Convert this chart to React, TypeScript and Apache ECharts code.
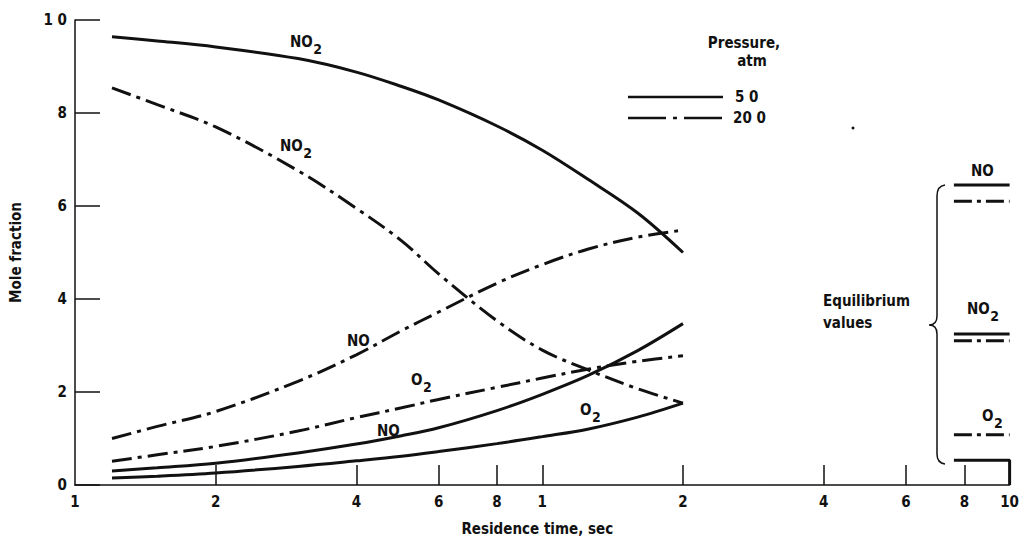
import React, { useEffect, useRef } from "react";
import * as echarts from "echarts";

// Residence time, sec
const times = [0.12, 0.15, 0.2, 0.3, 0.4, 0.5, 0.6, 0.8, 1.0, 1.25, 1.6, 2.0];
// Mole fractions at 5.0 atm (solid)
const no2At5 = [0.964, 0.955, 0.942, 0.917, 0.888, 0.857, 0.828, 0.772, 0.72, 0.658, 0.585, 0.5];
const noAt5 = [0.03, 0.037, 0.047, 0.069, 0.088, 0.106, 0.123, 0.16, 0.195, 0.235, 0.289, 0.347];
const o2At5 = [0.015, 0.019, 0.026, 0.04, 0.052, 0.062, 0.072, 0.089, 0.104, 0.12, 0.146, 0.176];
// Mole fractions at 20.0 atm (dash-dot)
const no2At20 = [0.854, 0.818, 0.77, 0.676, 0.595, 0.525, 0.454, 0.353, 0.29, 0.248, 0.207, 0.176];
const noAt20 = [0.1, 0.126, 0.158, 0.223, 0.28, 0.332, 0.372, 0.434, 0.474, 0.507, 0.533, 0.548];
const o2At20 = [0.051, 0.065, 0.083, 0.116, 0.145, 0.166, 0.184, 0.21, 0.23, 0.249, 0.266, 0.278];

// Equilibrium values (drawn at the right edge)
const eqTimes = [7.6, 10];
const eqAt5 = { NO: 0.645, NO2: 0.325, O2: 0.053 };
const eqAt20 = { NO: 0.61, NO2: 0.31, O2: 0.108 };

// Axis ticks
const xTickValues = [0.2, 0.4, 0.6, 0.8, 1, 2, 4, 6, 8];
const xLabelValues = [0.1, 0.2, 0.4, 0.6, 0.8, 1, 2, 4, 6, 8, 10];
const yLabels: Record<string, string> = { "0": "0", "0.2": "2", "0.4": "4", "0.6": "6", "0.8": "8", "1": "1 0" };

const FONT = "'DejaVu Sans Condensed', 'Liberation Sans', sans-serif";
const INK = "#111";
const DASHDOT = [20, 6, 4, 6];
const EQDASH = [18, 5, 4, 5];

const pair = (ys: number[]) => times.map((t, i) => [t, ys[i]]);

let measureCtx: CanvasRenderingContext2D | null = null;
function textWidth(text: string, font: string) {
  if (!measureCtx) measureCtx = document.createElement("canvas").getContext("2d");
  if (!measureCtx) return text.length * 9;
  measureCtx.font = font;
  return measureCtx.measureText(text).width;
}

function curve(name: string, ys: number[], dashed: boolean) {
  return {
    name,
    type: "line",
    data: pair(ys),
    smooth: 0.35,
    showSymbol: false,
    symbol: "none",
    silent: true,
    lineStyle: { color: INK, width: 3, type: dashed ? DASHDOT : "solid" },
  };
}

function eqLine(name: string, v: number, dashed: boolean, closeBox = false) {
  const data: number[][] = eqTimes.map((t) => [t, v]);
  if (closeBox) data.push([eqTimes[1], 0]);
  return {
    name,
    type: "line",
    data,
    showSymbol: false,
    symbol: "none",
    silent: true,
    lineStyle: { color: INK, width: 3, type: dashed ? EQDASH : "solid" },
  };
}

function label(x: number, y: number, main: string, sub?: string, size = 15) {
  const mainFont = `bold ${size}px ${FONT}`;
  const subFont = `bold ${size - 1}px ${FONT}`;
  const els: any[] = [
    {
      type: "text",
      x,
      y,
      style: { text: main, fill: INK, font: mainFont, textAlign: "left", textVerticalAlign: "middle" },
    },
  ];
  if (sub) {
    els.push({
      type: "text",
      x: x + textWidth(main, mainFont) + 0.5,
      y: y + 7,
      style: { text: sub, fill: INK, font: subFont, textAlign: "left", textVerticalAlign: "middle" },
    });
  }
  return els;
}

echarts.graphic.registerShape(
  "brace",
  echarts.graphic.extendPath(
    "M945,185 Q937,186 937,196 L937,316 Q937,325 929,325 Q937,325 937,334 L937,454 Q937,463 945,464",
    {}
  )
);

export default function App() {
  const ref = useRef<HTMLDivElement>(null);
  useEffect(() => {
    if (!ref.current) return;
    const chart = echarts.init(ref.current, undefined, { renderer: "svg" });
    chart.setOption({
      animation: false,
      backgroundColor: "#fff",
      grid: { left: 75, right: 11, top: 20, bottom: 54 },
      xAxis: {
        type: "log",
        logBase: 10,
        min: 0.1,
        max: 10,
        name: "Residence time, sec",
        nameLocation: "middle",
        nameGap: 36,
        nameTextStyle: { color: INK, fontFamily: FONT, fontSize: 15, fontWeight: "bold", padding: [0, 10, 0, 0] },
        axisLine: { show: true, lineStyle: { color: INK, width: 1.5 } },
        axisTick: { show: true, inside: true, length: 20, customValues: xTickValues, lineStyle: { color: INK, width: 1.5 } },
        axisLabel: {
          show: true,
          customValues: xLabelValues,
          margin: 9,
          color: INK,
          fontFamily: FONT,
          fontSize: 15,
          fontWeight: "bold",
          formatter: (v: number) => (v < 1 ? String(Math.round(v * 10)) : String(Math.round(v))),
        },
        splitLine: { show: false },
        minorTick: { show: false },
        minorSplitLine: { show: false },
      },
      yAxis: {
        type: "value",
        min: 0,
        max: 1,
        interval: 0.2,
        name: "Mole fraction",
        nameLocation: "middle",
        nameRotate: 90,
        nameGap: 52,
        nameTextStyle: { color: INK, fontFamily: FONT, fontSize: 15, fontWeight: "bold" },
        axisLine: { show: true, lineStyle: { color: INK, width: 1.5 } },
        axisTick: { show: true, inside: true, length: 25, lineStyle: { color: INK, width: 1.5 } },
        axisLabel: {
          margin: 8,
          color: INK,
          fontFamily: FONT,
          fontSize: 15,
          fontWeight: "bold",
          formatter: (v: number) => yLabels[String(Math.round(v * 10) / 10)] ?? "",
        },
        splitLine: { show: false },
      },
      series: [
        curve("NO2 5 atm", no2At5, false),
        curve("NO 5 atm", noAt5, false),
        curve("O2 5 atm", o2At5, false),
        curve("NO2 20 atm", no2At20, true),
        curve("NO 20 atm", noAt20, true),
        curve("O2 20 atm", o2At20, true),
        eqLine("NO eq 5", eqAt5.NO, false),
        eqLine("NO eq 20", eqAt20.NO, true),
        eqLine("NO2 eq 5", eqAt5.NO2, false),
        eqLine("NO2 eq 20", eqAt20.NO2, true),
        eqLine("O2 eq 5", eqAt5.O2, false, true),
        eqLine("O2 eq 20", eqAt20.O2, true),
      ],
      graphic: [
        // curve labels
        ...label(290, 42, "NO", "2"),
        ...label(280, 146, "NO", "2"),
        ...label(347, 341, "NO"),
        ...label(411, 380, "O", "2"),
        ...label(377, 431, "NO"),
        ...label(580, 410, "O", "2"),
        // equilibrium labels
        ...label(971, 171, "NO"),
        ...label(967, 309, "NO", "2"),
        ...label(982, 416, "O", "2"),
        {
          type: "text",
          x: 823,
          y: 312,
          style: { text: "Equilibrium\nvalues", fill: INK, font: `bold 15px ${FONT}`, lineHeight: 22, textAlign: "left", textVerticalAlign: "middle" },
        },
        { type: "brace", x: 0, y: 0, style: { stroke: INK, fill: "none", lineWidth: 1.5 } },
        // legend
        {
          type: "text",
          x: 744,
          y: 43,
          style: { text: "Pressure,", fill: INK, font: `bold 15px ${FONT}`, textAlign: "center", textVerticalAlign: "middle" },
        },
        {
          type: "text",
          x: 752,
          y: 61,
          style: { text: "atm", fill: INK, font: `bold 15px ${FONT}`, textAlign: "center", textVerticalAlign: "middle" },
        },
        { type: "line", shape: { x1: 628, y1: 97, x2: 723, y2: 97 }, style: { stroke: INK, lineWidth: 2.5 } },
        { type: "line", shape: { x1: 628, y1: 118, x2: 723, y2: 118 }, style: { stroke: INK, lineWidth: 2.5, lineDash: [38, 7, 4, 7] } },
        {
          type: "text",
          x: 735,
          y: 97,
          style: { text: "5 0", fill: INK, font: `bold 15px ${FONT}`, textAlign: "left", textVerticalAlign: "middle" },
        },
        {
          type: "text",
          x: 733,
          y: 118,
          style: { text: "20 0", fill: INK, font: `bold 15px ${FONT}`, textAlign: "left", textVerticalAlign: "middle" },
        },
        { type: "circle", shape: { cx: 853, cy: 128, r: 1.5 }, style: { fill: INK } },
      ],
    });
    return () => chart.dispose();
  }, []);
  return (
    <div
      ref={ref}
      style={{ position: "fixed", left: 0, top: 0, width: 1022, height: 541, background: "#fff" }}
    />
  );
}
